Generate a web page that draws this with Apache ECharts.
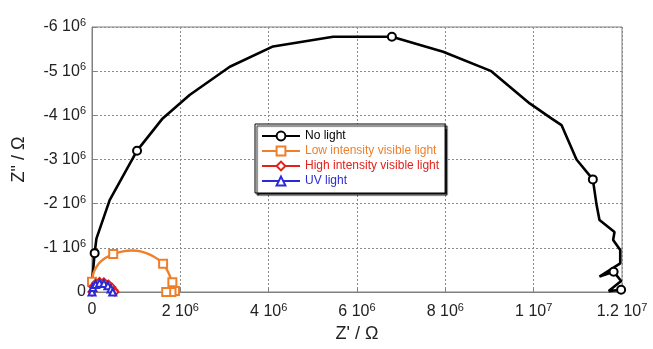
<!DOCTYPE html>
<html>
<head>
<meta charset="utf-8">
<script src="https://cdn.jsdelivr.net/npm/echarts@6/dist/echarts.min.js"></script>
<style>html,body{margin:0;padding:0;background:#fff}#c{width:653px;height:349px}</style>
</head>
<body>
<div id="c"></div>
<script>
// Values in units of 1e6 Ohm
const seriesNames = ["No light", "Low intensity visible light", "High intensity visible light", "UV light"];

const noLightX = [0.0, 0.06, 0.1, 0.4, 1.02, 1.6, 2.21, 3.12, 4.1, 5.46, 6.79, 7.95, 9.04, 9.91, 10.4, 10.63, 10.97, 11.34, 11.42, 11.49, 11.83, 11.8, 11.96, 11.96, 11.49, 11.81, 11.98, 11.7, 11.98];
const noLightY = [-0.22, -0.88, -1.21, -2.08, -3.2, -3.93, -4.46, -5.1, -5.56, -5.78, -5.78, -5.44, -5.0, -4.27, -3.93, -3.78, -3.0, -2.55, -2.0, -1.63, -1.36, -1.18, -0.95, -0.65, -0.35, -0.46, -0.25, -0.02, -0.05];
const noLightMarks = [0, 1, 4, 10, 17, 25, 28];

const lowX = [0.0, 0.04, 0.15, 0.3, 0.48, 0.7, 0.9, 1.1, 1.3, 1.48, 1.61, 1.72, 1.82, 1.87, 1.88, 1.8, 1.68];
const lowY = [-0.23, -0.45, -0.64, -0.77, -0.86, -0.92, -0.94, -0.92, -0.85, -0.75, -0.64, -0.46, -0.22, -0.08, -0.02, 0, 0];
const lowMarks = [0, 4, 10, 12, 14, 15, 16];

const highX = [0.0, 0.02, 0.08, 0.17, 0.27, 0.37, 0.45, 0.5, 0.52];
const highY = [0.0, -0.12, -0.2, -0.24, -0.23, -0.18, -0.11, -0.04, 0.0];

const uvX = [0.0, 0.02, 0.08, 0.17, 0.27, 0.36, 0.43, 0.47];
const uvY = [0.0, -0.1, -0.17, -0.2, -0.19, -0.14, -0.07, 0.0];

const xTicks = [0, 2e6, 4e6, 6e6, 8e6, 1e7, 1.2e7];
const yTicks = [-6e6, -5e6, -4e6, -3e6, -2e6, -1e6, 0];

function build(xs, ys, marks) {
  return xs.map((x, i) => {
    const item = { value: [x * 1e6, ys[i] * 1e6] };
    if (marks && marks.indexOf(i) < 0) item.symbol = 'none';
    return item;
  });
}

function fmt(v) {
  if (v === 0) return '0';
  const e = Math.floor(Math.log10(Math.abs(v)) + 1e-9);
  let m = v / Math.pow(10, e);
  m = Math.round(m * 10) / 10;
  return m + ' 10{s|' + e + '}';
}

const colors = ['#000000', '#F07F2A', '#E3201B', '#2B2BD6'];
const font = '"Liberation Sans", Arial, sans-serif';
const rich = { s: { fontSize: 11, verticalAlign: 'top', padding: [0, 0, 8, 0], fontFamily: font, color: '#222' } };

const chart = echarts.init(document.getElementById('c'), null, { renderer: 'canvas' });
chart.setOption({
  animation: false,
  backgroundColor: '#fff',
  grid: { left: 92, right: 31, top: 27, bottom: 57, show: true, borderColor: '#808080', borderWidth: 1, containLabel: false },
  legend: {
    orient: 'vertical', left: 255, top: 124,
    padding: [6, 6, 6, 6], itemGap: 3, itemWidth: 38, itemHeight: 11,
    backgroundColor: '#fff', borderColor: '#000', borderWidth: 1,
    shadowColor: 'rgba(0,0,0,0.9)', shadowBlur: 1, shadowOffsetX: 2, shadowOffsetY: 2,
    textStyle: { fontSize: 12, fontFamily: font },
    data: seriesNames.map((n, i) => ({ name: n, textStyle: { color: colors[i] } }))
  },
  xAxis: {
    type: 'value', min: 0, max: 1.2e7, interval: 2e6,
    name: "Z' / Ω", nameLocation: 'middle', nameGap: 33,
    nameTextStyle: { fontSize: 18, fontFamily: font, color: '#222' },
    axisLine: { show: true, onZero: false, lineStyle: { color: '#808080' } },
    axisTick: { show: true, inside: true, length: 4, lineStyle: { color: '#808080' } },
    axisLabel: { fontSize: 16, fontFamily: font, color: '#222', margin: 10, formatter: fmt, rich: rich },
    splitLine: { show: true, lineStyle: { color: '#8a8a8a', type: [2, 2], width: 1 } }
  },
  yAxis: {
    type: 'value', min: -6e6, max: 0, interval: 1e6, inverse: true,
    name: 'Z" / Ω', nameLocation: 'middle', nameGap: 64,
    nameTextStyle: { fontSize: 18, fontFamily: font, color: '#222' },
    axisLine: { show: true, onZero: false, lineStyle: { color: '#808080' } },
    axisTick: { show: true, inside: true, length: 4, lineStyle: { color: '#808080' } },
    axisLabel: { fontSize: 16, fontFamily: font, color: '#222', margin: 6, formatter: fmt, rich: rich },
    splitLine: { show: true, lineStyle: { color: '#8a8a8a', type: [2, 2], width: 1 } }
  },
  series: [
    { name: seriesNames[0], type: 'line', data: build(noLightX, noLightY, noLightMarks), color: colors[0],
      symbol: 'emptyCircle', symbolSize: 8, showAllSymbol: true, lineStyle: { width: 2.6, color: colors[0] },
      itemStyle: { color: colors[0], borderWidth: 1, borderColor: '#555' }, z: 2 },
    { name: seriesNames[1], type: 'line', data: build(lowX, lowY, lowMarks), color: colors[1], smooth: 0.3,
      symbol: 'emptyRect', symbolSize: 8, showAllSymbol: true, lineStyle: { width: 2.4, color: colors[1] },
      itemStyle: { color: colors[1], borderWidth: 1 }, z: 3 },
    { name: seriesNames[2], type: 'line', data: build(highX, highY, null), color: colors[2], smooth: 0.3,
      symbol: 'emptyDiamond', symbolSize: 7, showAllSymbol: true, lineStyle: { width: 2, color: colors[2] },
      itemStyle: { color: colors[2], borderWidth: 1.5 }, z: 4 },
    { name: seriesNames[3], type: 'line', data: build(uvX, uvY, null), color: colors[3], smooth: 0.3,
      symbol: 'emptyTriangle', symbolSize: 7, showAllSymbol: true, lineStyle: { width: 2, color: colors[3] },
      itemStyle: { color: colors[3], borderWidth: 1.5 }, z: 5 }
  ]
});
</script>
</body>
</html>
